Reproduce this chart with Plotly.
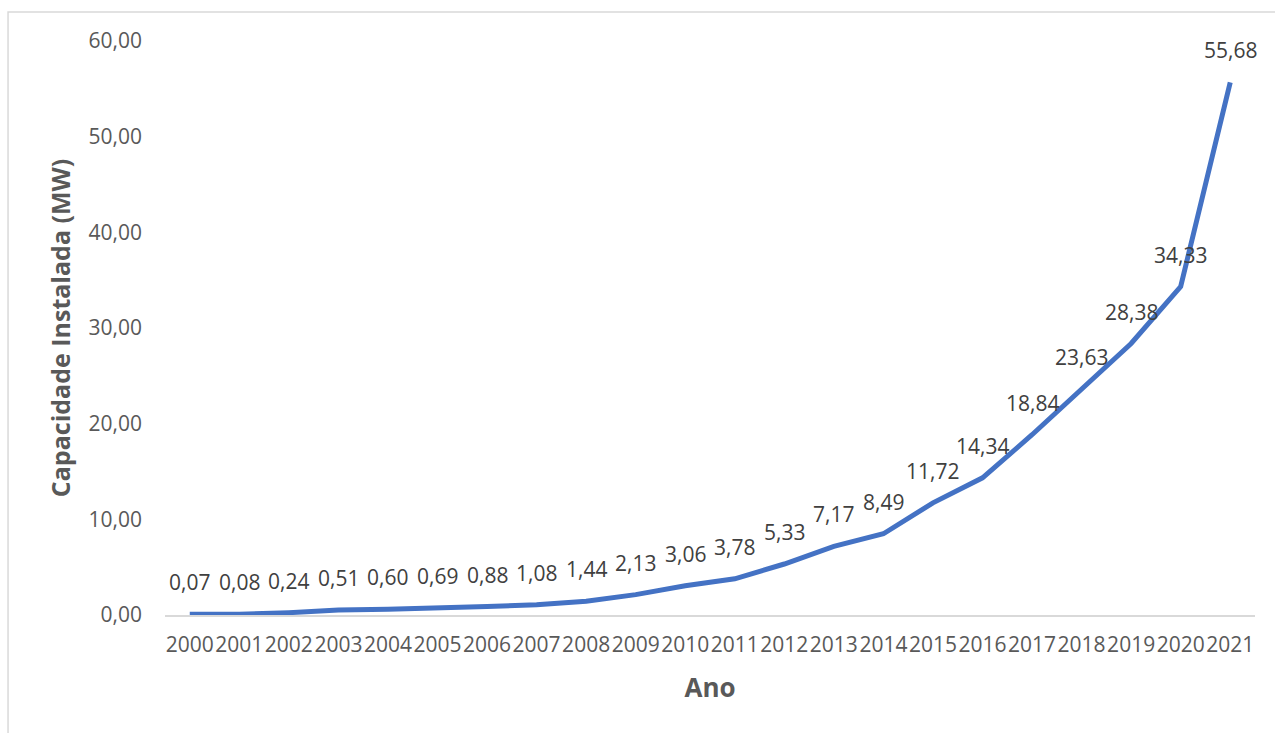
import plotly.graph_objects as go

# Capacidade instalada por ano (MW)
anos = [str(a) for a in range(2000, 2022)]
capacidade = [0.07, 0.08, 0.24, 0.51, 0.60, 0.69, 0.88, 1.08, 1.44, 2.13, 3.06,
              3.78, 5.33, 7.17, 8.49, 11.72, 14.34, 18.84, 23.63, 28.38, 34.33, 55.68]
y_ticks = [0, 10, 20, 30, 40, 50, 60]

FONT = "Open Sans"
LINE_BLUE = "#4472C4"

fig = go.Figure()
fig.add_trace(go.Scatter(
    x=anos, y=capacidade, mode="lines",
    line=dict(color=LINE_BLUE, width=5),
    hoverinfo="x+y", showlegend=False,
))

# data labels above each point (x given as category index)
for i, v in enumerate(capacidade):
    fig.add_annotation(
        x=i, y=v, text=f"{v:.2f}".replace(".", ","),
        showarrow=False, yshift=32, xanchor="center", yanchor="middle",
        font=dict(family=FONT, size=21, color="#404040"),
    )

# chart frame
fig.add_shape(type="rect", xref="paper", yref="paper",
              x0=-0.144, x1=1.2, y0=-0.4, y1=1.0505,
              line=dict(color="#d9d9d9", width=1.5), fillcolor="rgba(0,0,0,0)",
              layer="below")

fig.update_layout(
    width=1275, height=733,
    margin=dict(l=165, r=20, t=41, b=118),
    paper_bgcolor="white", plot_bgcolor="white",
    separators=",.",
    font=dict(family=FONT, color="#595959"),
    xaxis=dict(
        type="category", categoryarray=anos, range=[-0.5, len(anos) - 0.5],
        showgrid=False, showline=True,
        linecolor="#d9d9d9", linewidth=1.5, ticks="", tickangle=0,
        tickfont=dict(family=FONT, size=21, color="#595959"),
        ticklabelstandoff=10,
        title=dict(text="<b>Ano</b>", font=dict(family=FONT, size=26, color="#595959"),
                   standoff=22),
        automargin=False,
    ),
    yaxis=dict(
        range=[0, 60], tickvals=y_ticks, tickformat=".2f",
        showgrid=False, showline=False, zeroline=False, ticks="",
        tickfont=dict(family=FONT, size=21, color="#595959"),
        ticklabelstandoff=22,
        title=dict(text="<b>Capacidade Instalada (MW)</b>",
                   font=dict(family=FONT, size=25, color="#595959"), standoff=10),
        automargin=False,
    ),
)

fig.write_html("out.html")
